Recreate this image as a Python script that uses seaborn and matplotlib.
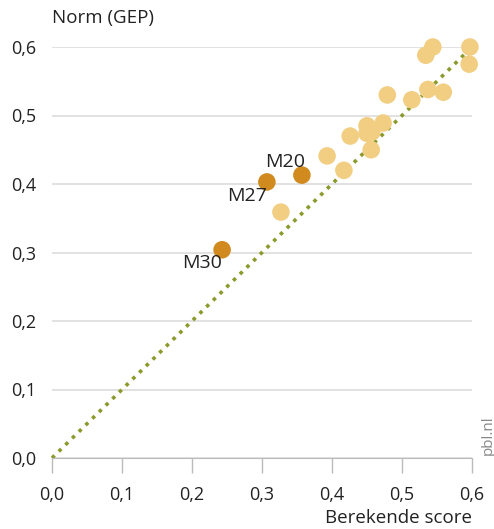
import numpy as np
import pandas as pd
import seaborn as sns
import matplotlib.pyplot as plt

# data
berekend = [0.327, 0.393, 0.417, 0.426, 0.450, 0.457, 0.450, 0.456, 0.473, 0.479,
            0.514, 0.537, 0.559, 0.534, 0.544, 0.597, 0.596]
norm = [0.359, 0.441, 0.420, 0.470, 0.474, 0.476, 0.485, 0.450, 0.489, 0.530,
        0.523, 0.538, 0.534, 0.588, 0.600, 0.600, 0.575]

gemarkeerd_namen = ["M20", "M27", "M30"]
gemarkeerd_x = [0.357, 0.307, 0.243]
gemarkeerd_y = [0.413, 0.403, 0.304]

ticks = [0.0, 0.1, 0.2, 0.3, 0.4, 0.5, 0.6]
tick_labels = ["0,0", "0,1", "0,2", "0,3", "0,4", "0,5", "0,6"]

df = pd.DataFrame({
    "x": berekend + gemarkeerd_x,
    "y": norm + gemarkeerd_y,
    "groep": ["overig"] * len(berekend) + ["gemarkeerd"] * len(gemarkeerd_x),
})

sns.set_style("white")
plt.rcParams["font.family"] = ["Open Sans", "DejaVu Sans"]

fig = plt.figure(figsize=(4.94, 5.29), dpi=100)
ax = fig.add_axes([52 / 494, 1 - 458 / 529, 420 / 494, 411 / 529])

# diagonal reference line
ax.plot([0, 0.6], [0, 0.6], color="#8c9a2b", lw=2.6, linestyle=(0, (1, 1.6)),
        zorder=2, clip_on=False)

sns.scatterplot(data=df, x="x", y="y", hue="groep",
                palette={"overig": "#f2ce82", "gemarkeerd": "#d08a1e"},
                s=160, edgecolor="none", legend=False, ax=ax, zorder=3,
                clip_on=False)

offsets = {"M20": (-17, 13), "M27": (-20, -14), "M30": (-20, -13)}
for naam, px, py in zip(gemarkeerd_namen, gemarkeerd_x, gemarkeerd_y):
    ax.annotate(naam, (px, py), xytext=offsets[naam], textcoords="offset pixels",
                ha="center", va="center", fontsize=14, color="#222222")

ax.set_xlim(0, 0.6)
ax.set_ylim(0, 0.6)
ax.set_xticks(ticks)
ax.set_xticklabels(tick_labels, fontsize=13)
ax.set_yticks(ticks)
ax.set_yticklabels(tick_labels, fontsize=13)
ax.grid(axis="y", color="#dddddd", lw=1.2)
ax.grid(axis="x", visible=False)
for kant in ["top", "right", "left"]:
    ax.spines[kant].set_visible(False)
ax.spines["bottom"].set_color("#bbbbbb")
ax.tick_params(axis="x", length=11, width=1, color="#bbbbbb", pad=9,
               labelcolor="#222222", direction="out", bottom=True)
ax.tick_params(axis="y", length=0, pad=11, labelcolor="#222222")
ax.set_xlabel("")
ax.set_ylabel("")

fig.text(52 / 494, 1 - 18 / 529, "Norm (GEP)", fontsize=13.5, color="#222222",
         ha="left", va="center")
fig.text(472 / 494, 1 - 518 / 529, "Berekende score", fontsize=13.5,
         color="#222222", ha="right", va="center")
fig.text(488 / 494, 1 - 435 / 529, "pbl.nl", fontsize=11, color="#888888",
         rotation=90, ha="center", va="center")

fig.savefig("out.png", dpi=100)
